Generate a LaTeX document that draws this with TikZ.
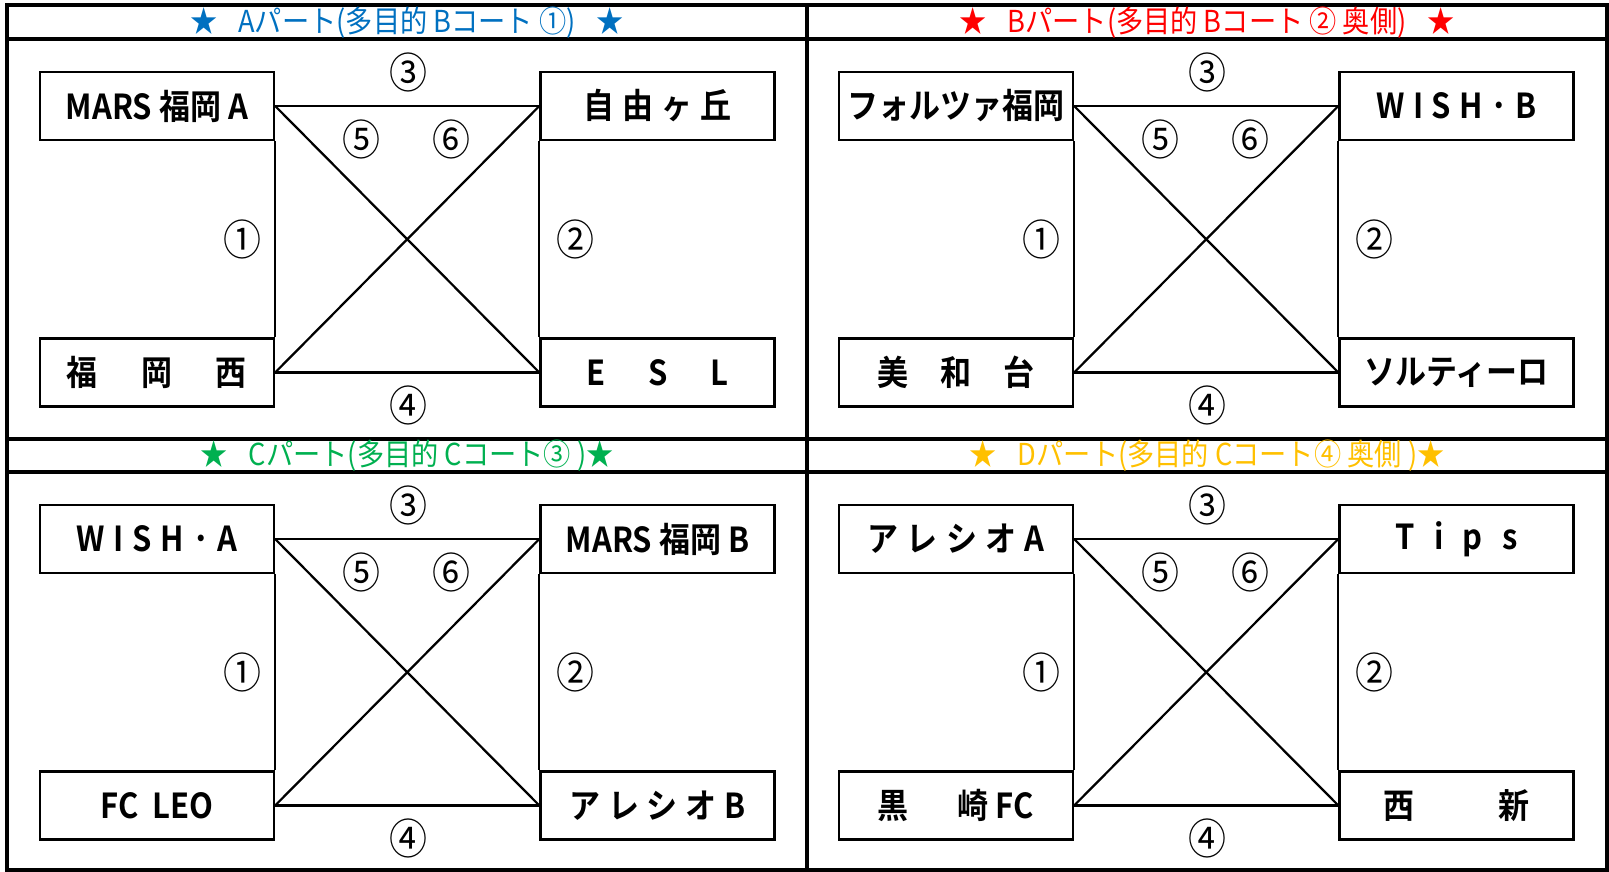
\documentclass[tikz,border=0pt]{standalone}
\usepackage{fontspec}
\setmainfont{Noto Sans CJK JP}[BoldFont={Noto Sans CJK JP Bold}, FakeStretch=0.9]
\usetikzlibrary{positioning}
\definecolor{partA}{RGB}{0,112,192}
\definecolor{partB}{RGB}{255,0,0}
\definecolor{partC}{RGB}{0,176,80}
\definecolor{partD}{RGB}{255,192,0}
\tikzstyle{team} = [rectangle, draw, inner sep=0pt, minimum width=5.85cm, minimum height=1.7cm, font=\fontsize{24.5}{27}\selectfont\bfseries]
\tikzstyle{num} = [inner sep=0pt, font=\fontsize{30}{32}\selectfont]
\tikzstyle{title} = [inner sep=0pt, font=\fontsize{21.5}{24}\selectfont]
\newcommand{\spaced}[2]{\makebox[#1]{#2}}
\newcommand{\gap}{\hspace{0.7em}}

\begin{document}
\begin{tikzpicture}[x=0.025cm, y=-0.025cm, line width=1.6pt]
        \useasboundingbox (0, 0) rectangle (1609, 872);

        % frame
        \draw[line width=2.2pt] (7, 5) rectangle (1607, 870);
        \draw[line width=2.2pt] (807, 5) -- (807, 870);
        \draw[line width=2.2pt] (7, 39) -- (1607, 39);
        \draw[line width=2.2pt] (7, 439) -- (1607, 439);
        \draw[line width=2.2pt] (7, 472) -- (1607, 472);

        % titles
        \node[title, text=partA] at (407, 22.5) (titleA) {★\gap Aパート(多目的 Bコート ①)\gap ★};
        \node[title, text=partB] at (1207, 22.5) (titleB) {★\gap Bパート(多目的 Bコート ② 奥側)\gap ★};
        \node[title, text=partC] at (407, 455.5) (titleC) {★\gap Cパート(多目的 Cコート③ )★};
        \node[title, text=partD] at (1207, 455.5) (titleD) {★\gap Dパート(多目的 Cコート④ 奥側 )★};

        % A part
        \begin{scope}[shift={(0, 0)}]
        \node[team] at (157, 106) (A-tl) {MARS 福岡 A};
        \node[team] at (157, 372.5) (A-bl) {\spaced{4.5cm}{福\hfill 岡\hfill 西}};
        \node[team] at (657.5, 106) (A-tr) {\spaced{3.7cm}{自\hfill 由\hfill ヶ\hfill 丘}};
        \node[team] at (657.5, 372.5) (A-br) {\spaced{3.54cm}{E\hfill S\hfill L}};
        \node[num] at (408, 72) (A-n3) {③};
        \node[num] at (361, 139) (A-n5) {⑤};
        \node[num] at (451, 139) (A-n6) {⑥};
        \node[num] at (242, 239) (A-n1) {①};
        \node[num] at (575, 239) (A-n2) {②};
        \node[num] at (408, 405) (A-n4) {④};
        \draw (A-tl.east) -- (A-tr.west);
        \draw (A-bl.east) -- (A-br.west);
        \draw (A-tl.east) -- (A-br.west);
        \draw (A-bl.east) -- (A-tr.west);
        \draw (A-tl.south east) -- (A-bl.north east);
        \draw (A-tr.south west) -- (A-br.north west);
        \end{scope}

        % B part
        \begin{scope}[shift={(799, 0)}]
        \node[team] at (157, 106) (B-tl) {フォルツァ福岡};
        \node[team] at (157, 372.5) (B-bl) {\spaced{3.92cm}{美\hfill 和\hfill 台}};
        \node[team] at (657.5, 106) (B-tr) {\spaced{3.98cm}{W\hfill I\hfill S\hfill H\hfill ･\hfill B}};
        \node[team] at (657.5, 372.5) (B-br) {ソルティーロ};
        \node[num] at (408, 72) (B-n3) {③};
        \node[num] at (361, 139) (B-n5) {⑤};
        \node[num] at (451, 139) (B-n6) {⑥};
        \node[num] at (242, 239) (B-n1) {①};
        \node[num] at (575, 239) (B-n2) {②};
        \node[num] at (408, 405) (B-n4) {④};
        \draw (B-tl.east) -- (B-tr.west);
        \draw (B-bl.east) -- (B-br.west);
        \draw (B-tl.east) -- (B-br.west);
        \draw (B-bl.east) -- (B-tr.west);
        \draw (B-tl.south east) -- (B-bl.north east);
        \draw (B-tr.south west) -- (B-br.north west);
        \end{scope}

        % C part
        \begin{scope}[shift={(0, 433)}]
        \node[team] at (157, 106) (C-tl) {\spaced{4.03cm}{W\hfill I\hfill S\hfill H\hfill ･\hfill A}};
        \node[team] at (157, 372.5) (C-bl) {FC\ \ LEO};
        \node[team] at (657.5, 106) (C-tr) {MARS 福岡 B};
        \node[team] at (657.5, 372.5) (C-br) {\spaced{4.39cm}{ア\hfill レ\hfill シ\hfill オ\hfill B}};
        \node[num] at (408, 72) (C-n3) {③};
        \node[num] at (361, 139) (C-n5) {⑤};
        \node[num] at (451, 139) (C-n6) {⑥};
        \node[num] at (242, 239) (C-n1) {①};
        \node[num] at (575, 239) (C-n2) {②};
        \node[num] at (408, 405) (C-n4) {④};
        \draw (C-tl.east) -- (C-tr.west);
        \draw (C-bl.east) -- (C-br.west);
        \draw (C-tl.east) -- (C-br.west);
        \draw (C-bl.east) -- (C-tr.west);
        \draw (C-tl.south east) -- (C-bl.north east);
        \draw (C-tr.south west) -- (C-br.north west);
        \end{scope}

        % D part
        \begin{scope}[shift={(799, 433)}]
        \node[team] at (157, 106) (D-tl) {\spaced{4.41cm}{ア\hfill レ\hfill シ\hfill オ\hfill A}};
        \node[team] at (157, 372.5) (D-bl) {\spaced{3.9cm}{黒\hfill 崎 FC}};
        \node[team] at (657.5, 106) (D-tr) {\spaced{3.05cm}{T\hfill i\hfill p\hfill s}};
        \node[team] at (657.5, 372.5) (D-br) {\spaced{3.67cm}{西\hfill 新}};
        \node[num] at (408, 72) (D-n3) {③};
        \node[num] at (361, 139) (D-n5) {⑤};
        \node[num] at (451, 139) (D-n6) {⑥};
        \node[num] at (242, 239) (D-n1) {①};
        \node[num] at (575, 239) (D-n2) {②};
        \node[num] at (408, 405) (D-n4) {④};
        \draw (D-tl.east) -- (D-tr.west);
        \draw (D-bl.east) -- (D-br.west);
        \draw (D-tl.east) -- (D-br.west);
        \draw (D-bl.east) -- (D-tr.west);
        \draw (D-tl.south east) -- (D-bl.north east);
        \draw (D-tr.south west) -- (D-br.north west);
        \end{scope}

    \end{tikzpicture}
\end{document}
